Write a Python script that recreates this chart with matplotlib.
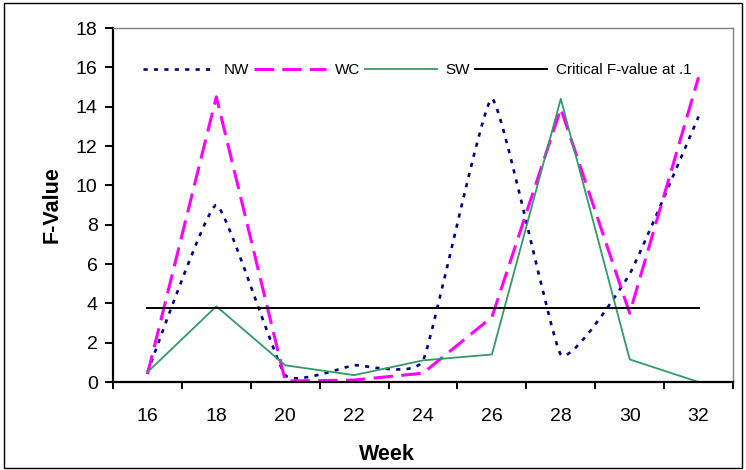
import numpy as np
import matplotlib
matplotlib.use('Agg')
import matplotlib.pyplot as plt
from matplotlib.path import Path
from matplotlib.patches import PathPatch, Rectangle
from matplotlib.lines import Line2D

plt.rcParams['font.family'] = ['Liberation Sans', 'DejaVu Sans']
plt.rcParams['lines.scale_dashes'] = False

# ── Datos ───────────────────────────────────────────────────────────────────
weeks = [16, 18, 20, 22, 24, 26, 28, 30, 32]
nw = [0.5, 9.0, 0.35, 0.85, 1.1, 14.4, 1.4, 5.5, 13.5]
wc = [0.4, 14.5, 0.05, 0.1, 0.45, 3.3, 13.9, 3.5, 15.5]
sw = [0.5, 3.85, 0.85, 0.35, 1.1, 1.4, 14.4, 1.15, 0.0]
critical = 3.78

C_NW = '#000080'
C_WC = '#FF00FF'
C_SW = '#339966'


def smooth_path(x, y, tension=0.4):
    """Curva suavizada suave (Bezier) por los puntos, estilo Excel."""
    pts = np.column_stack([x, y]).astype(float)
    n = len(pts)
    k = tension / 6
    verts = [pts[0]]
    codes = [Path.MOVETO]
    for i in range(n - 1):
        p0 = pts[max(i - 1, 0)]
        p1 = pts[i]
        p2 = pts[i + 1]
        p3 = pts[min(i + 2, n - 1)]
        verts += [p1 + (p2 - p0) * k, p2 - (p3 - p1) * k, p2]
        codes += [Path.CURVE4] * 3
    return Path(verts, codes)


fig = plt.figure(figsize=(7.46, 4.70), dpi=100)
ax = fig.add_axes([0.1515, 0.1872, 0.8311, 0.7532])

nw_style = dict(color=C_NW, lw=1.9, linestyle=(0, (3.0, 4.5)))
wc_style = dict(color=C_WC, lw=2.2, linestyle=(0, (14, 6)))
sw_style = dict(color=C_SW, lw=1.3)
cr_style = dict(color='black', lw=1.4)

ax.add_patch(PathPatch(smooth_path(weeks, nw), fill=False, **nw_style))
ax.plot(weeks, wc, **wc_style)
ax.plot(weeks, sw, **sw_style)
ax.plot([weeks[0], weeks[-1]], [critical, critical], **cr_style)

ax.set_xlim(15, 33)
ax.set_ylim(0, 18)
ax.set_yticks(np.arange(0, 19, 2))
ax.set_xticks(np.arange(15, 34, 2))
ax.set_xticklabels([])
ax.set_xticks(weeks, minor=True)
ax.set_xticklabels([str(w) for w in weeks], minor=True)
ax.tick_params(axis='x', which='major', direction='out', length=5, width=1.4)
ax.tick_params(axis='x', which='minor', length=0, pad=19, labelsize=14)
ax.tick_params(axis='y', direction='out', length=6, width=1.4, pad=5,
               labelsize=14)

for side in ('left', 'bottom'):
    ax.spines[side].set_linewidth(1.6)
    ax.spines[side].set_color('black')
for side in ('top', 'right'):
    ax.spines[side].set_linewidth(1.0)
    ax.spines[side].set_color('#808080')

ax.set_xlabel('Week', fontsize=15.5, fontweight='bold')
ax.set_ylabel('F-Value', fontsize=15.5, fontweight='bold')
ax.xaxis.set_label_coords(0.442, -0.176)
ax.yaxis.set_label_coords(-0.081, 0.5)

handles = [Line2D([], [], **nw_style), Line2D([], [], **wc_style),
           Line2D([], [], **sw_style), Line2D([], [], **cr_style)]
labels = ['NW', 'WC', 'SW', 'Critical F-value at .1']
fig.legend(handles, labels, loc='center left',
           bbox_to_anchor=(143 / 746, 1 - 70 / 470),
           bbox_transform=fig.transFigure, ncol=4, frameon=False,
           fontsize=11, handlelength=4.7, handletextpad=0.6,
           columnspacing=0.3, borderpad=0, borderaxespad=0)

# Marco exterior del gráfico
fig.patches.append(Rectangle((4 / 746, 2 / 470), 738 / 746, 465 / 470,
                             transform=fig.transFigure, fill=False,
                             edgecolor='black', lw=1.0))

fig.savefig('out.png', dpi=100)
